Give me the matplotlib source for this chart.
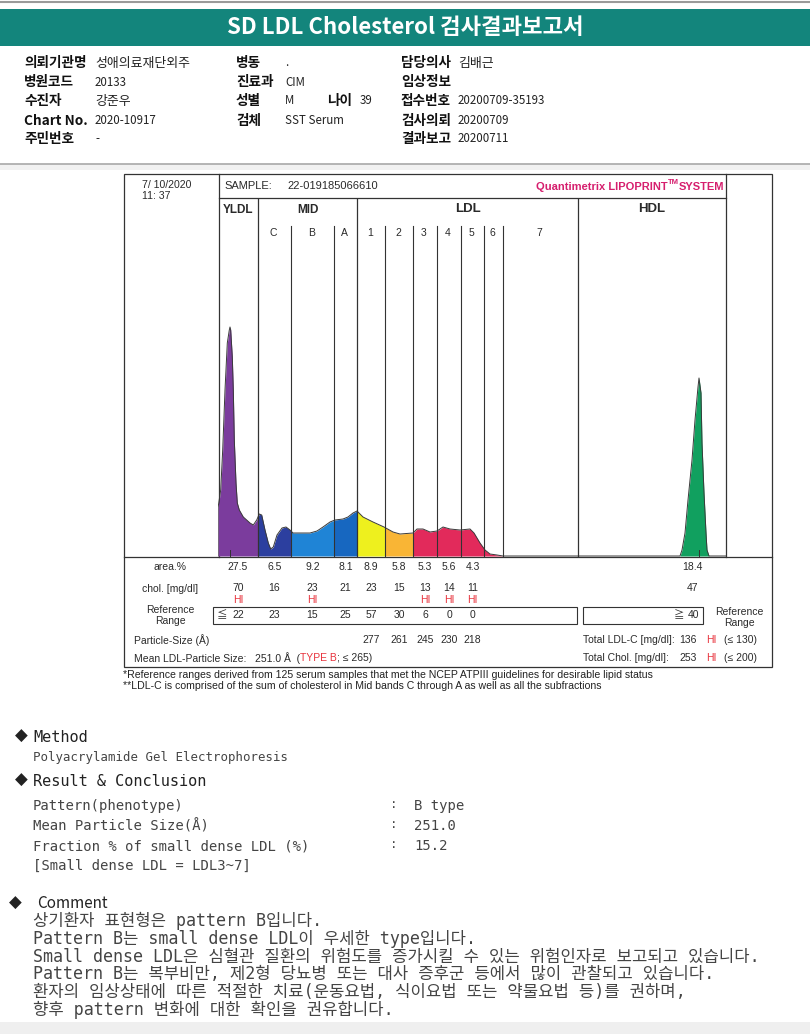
import matplotlib
matplotlib.use("Agg")
import matplotlib.pyplot as plt
from matplotlib.patches import Rectangle
from matplotlib.transforms import blended_transform_factory

plt.rcParams['font.family'] = ['Noto Sans CJK KR', 'DejaVu Sans']

# ---- report header info ----
col1_labels = ['의뢰기관명', '병원코드', '수진자', 'Chart No.', '주민번호']
col1_values = ['성애의료재단외주', '20133', '강준우', '2020-10917', '-']
col2_labels = ['병동', '진료과', '성별', '검체', '']
col2_values = ['.', 'CIM', 'M', 'SST Serum', '']
col3_labels = ['담당의사', '임상정보', '접수번호', '검사의뢰', '결과보고']
col3_values = ['김배근', '', '20200709-35193', '20200709', '20200711']
age_label, age_value = '나이', '39'

# ---- densitometry trace (mobility offset, relative intensity) ----
trace_x = [0, 0, 2.7, 4.7, 7, 9.3, 11.3, 12, 12.7, 14.3, 15.3, 16.3, 18, 19.3, 21.3,
           25.3, 32, 35.3, 38.7, 41.3, 43.7, 47, 50.3, 52.7, 55.3, 59, 64, 68, 72,
           75, 82, 92, 99, 105, 112, 117, 125, 130, 135, 139, 145, 155, 166, 175,
           182, 195, 199, 205, 212, 219, 225, 232, 242, 252, 256, 262, 267, 272,
           279, 285, 462, 464, 467, 470, 474, 477, 480, 481, 483, 484, 486, 488,
           489, 491, 508]
trace_y = [0, 48, 66, 106, 166, 213, 226, 229, 226, 199, 166, 116, 73, 53, 46,
           39, 33, 31, 36, 42, 41, 26, 13, 7, 9, 21, 28, 29, 26,
           23, 23, 23, 25, 29, 34, 36, 37, 39, 43, 45, 39, 34, 29, 24,
           22, 23, 27, 27, 24, 25, 29, 27, 26, 27, 23, 13, 6, 2,
           1, 0, 0, 6, 23, 56, 96, 136, 169, 178, 163, 113, 63, 23,
           6, 0, 0]

band_edges = [0, 40, 73, 116, 139, 167, 195, 219, 243, 266, 285, 360, 508]
sub_labels = ['C', 'B', 'A', '1', '2', '3', '4', '5', '6', '7']
fill_spans = [(0, 40), (40, 73), (73, 116), (116, 139), (139, 167), (167, 195),
              (195, 285), (360, 508)]
fill_colors = ['#7b3c9d', '#2c3f9f', '#1f84d6', '#1767c0', '#eef01e', '#f9b535',
               '#e22a5b', '#11a05f']

# ---- table values ----
area_pct = ['27.5', '6.5', '9.2', '8.1', '8.9', '5.8', '5.3', '5.6', '4.3']
chol = ['70', '16', '23', '21', '23', '15', '13', '14', '11']
chol_hi = [True, False, True, False, False, False, True, True, True]
ref_range = ['22', '23', '15', '25', '57', '30', '6', '0', '0']
particle_size = ['277', '261', '245', '230', '218']
hdl_area, hdl_chol, hdl_ref = '18.4', '47', '40'

# ---- results ----
result_labels = ['Pattern(phenotype)', 'Mean Particle Size(Å)',
                 'Fraction % of small dense LDL (%)']
result_values = ['B type', '251.0', '15.2']
comments = [
    '상기환자 표현형은 pattern B입니다.',
    'Pattern B는 small dense LDL이 우세한 type입니다.',
    'Small dense LDL은 심혈관 질환의 위험도를 증가시킬 수 있는 위험인자로 보고되고 있습니다.',
    'Pattern B는 복부비만, 제2형 당뇨병 또는 대사 증후군 등에서 많이 관찰되고 있습니다.',
    '환자의 임상상태에 따른 적절한 치료(운동요법, 식이요법 또는 약물요법 등)를 권하며,',
    '향후 pattern 변화에 대한 확인을 권유합니다.',
]

teal = '#13857c'
ink = '#2a2a2a'
red = '#e8323c'
magenta = '#d61f6e'
chart_font = ['Liberation Sans', 'Noto Sans CJK KR', 'DejaVu Sans']
mono = ['DejaVu Sans Mono', 'Noto Sans CJK KR']


def has_hangul(s):
    return any('\uac00' <= ch <= '\ud7a3' for ch in s)


fig = plt.figure(figsize=(8.1, 10.34), dpi=100)
page = fig.add_axes([0, 0, 1, 1])
page.set_xlim(0, 810)
page.set_ylim(1034, 0)
page.axis('off')
rend = fig.canvas.get_renderer()

# title band
page.plot([0, 810], [1.5, 1.5], color='#9a9a9a', lw=1.5)
page.add_patch(Rectangle((0, 9), 810, 37, color=teal, lw=0))
page.text(405, 28, 'SD LDL Cholesterol 검사결과보고서', color='white', fontsize=16,
          fontweight='bold', ha='center', va='center')

rows_y = [63, 82, 101, 121, 139]
lab_kw = dict(fontsize=9.8, fontweight='bold', va='center', color='#111')


def value(x, y, s):
    page.text(x, y, s, fontsize=9.3 if has_hangul(s) else 8.3, va='center', color='#222')


for i, y in enumerate(rows_y):
    page.text(24, y, col1_labels[i], **lab_kw)
    value(95, y, col1_values[i])
    page.text(236, y, col2_labels[i], **lab_kw)
    value(285, y, col2_values[i])
    page.text(401, y, col3_labels[i], **lab_kw)
    value(458, y, col3_values[i])
page.text(327, rows_y[2], age_label, **lab_kw)
value(360, rows_y[2], age_value)

page.add_patch(Rectangle((0, 164), 810, 6, color='#f1f1f1', lw=0))
page.plot([0, 810], [163.5, 163.5], color='#a8a8a8', lw=1.2)

# chart frame
lc = '#333333'
page.add_patch(Rectangle((124, 174), 648, 493, fill=False, ec=lc, lw=0.9))
page.plot([219, 219], [174, 557], color=lc, lw=0.9)
page.plot([726, 726], [174, 557], color=lc, lw=0.9)
page.plot([219, 726], [197.5, 197.5], color=lc, lw=0.9)
page.plot([124, 772], [557, 557], color=lc, lw=0.9)

page.text(142, 185, '7/ 10/2020', fontsize=7.6, family=chart_font, va='center', color=ink)
page.text(142, 196, '11: 37', fontsize=7.6, family=chart_font, va='center', color=ink)
page.text(224, 186, 'SAMPLE:', fontsize=8, family=chart_font, va='center', color=ink)
page.text(287, 186, '22-019185066610', fontsize=8, family=chart_font, va='center', color=ink)

t = page.text(724, 187, 'SYSTEM', fontsize=8, family=chart_font, fontweight='bold',
              color=magenta, ha='right', va='center')
x0 = t.get_window_extent(rend).x0
t = page.text(x0, 182, 'TM', fontsize=5.5, family=chart_font, fontweight='bold',
              color=magenta, ha='right', va='center')
x0 = t.get_window_extent(rend).x0
page.text(x0, 187, 'Quantimetrix LIPOPRINT', fontsize=8, family=chart_font,
          fontweight='bold', color=magenta, ha='right', va='center')

# trace axes
L, R, T, B = 218, 726, 198, 557
ax = fig.add_axes([L / 810, 1 - B / 1034, (R - L) / 810, (B - T) / 1034])
ax.set_xlim(0, 508)
ax.set_ylim(-1, 358)
ax.axis('off')

for (a, b), col in zip(fill_spans, fill_colors):
    poly = ax.fill_between(trace_x, trace_y, 0, color=col, lw=0)
    poly.set_clip_path(Rectangle((a, -1), b - a, 360, transform=ax.transData))
ax.plot(trace_x, trace_y, color='#3a3a3a', lw=0.7)
ax.plot([12, 12], [-1, 6], color='#333', lw=0.7)
ax.plot([481, 481], [-1, 6], color='#333', lw=0.7)

main_div = [band_edges[1], band_edges[4], band_edges[11]]
sub_div = band_edges[2:4] + band_edges[5:11]
for xv in main_div:
    ax.plot([xv, xv], [-1, 358], color=lc, lw=0.9)
for xv in sub_div:
    ax.plot([xv, xv], [-1, 330], color=lc, lw=0.8)

bt = blended_transform_factory(ax.transData, page.transData)
centers = [(band_edges[i] + band_edges[i + 1]) / 2 for i in range(len(band_edges) - 1)]
page.text(centers[0], 210, 'YLDL', transform=bt, fontsize=8.5, fontweight='bold',
          family=chart_font, ha='center', va='center', color=ink)
page.text((band_edges[1] + band_edges[4]) / 2, 210, 'MID', transform=bt, fontsize=8.5,
          fontweight='bold', family=chart_font, ha='center', va='center', color=ink)
page.text((band_edges[4] + band_edges[11]) / 2, 209, 'LDL', transform=bt, fontsize=9.5,
          fontweight='bold', family=chart_font, ha='center', va='center', color=ink)
page.text(centers[11], 209, 'HDL', transform=bt, fontsize=9.5, fontweight='bold',
          family=chart_font, ha='center', va='center', color=ink)
for lab, cx in zip(sub_labels, centers[1:11]):
    page.text(cx - 1, 233, lab, transform=bt, fontsize=7.5, family=chart_font,
              ha='center', va='center', color=ink)

# table under the trace
tkw = dict(fontsize=7.5, family=chart_font, va='center', color=ink)
page.text(170, 567, 'area.%', ha='center', **tkw)
page.text(170, 589, 'chol. [mg/dl]', ha='center', **tkw)
page.text(170, 610, 'Reference', ha='center', **tkw)
page.text(170, 621, 'Range', ha='center', **tkw)
page.text(134, 640, 'Particle-Size (Å)', ha='left', **tkw)
hdl_x = 474
for i, cx in enumerate(centers[:9]):
    page.text(cx, 567, area_pct[i], transform=bt, ha='center', **tkw)
    page.text(cx, 588, chol[i], transform=bt, ha='center', **tkw)
    if chol_hi[i]:
        page.text(cx, 600, 'HI', transform=bt, ha='center', fontsize=7.5,
                  family=chart_font, va='center', color=red)
    page.text(cx, 615.5, ref_range[i], transform=bt, ha='center', **tkw)
for i, cx in enumerate(centers[4:9]):
    page.text(cx, 640, particle_size[i], transform=bt, ha='center', **tkw)
page.text(hdl_x, 567, hdl_area, transform=bt, ha='center', **tkw)
page.text(hdl_x, 588, hdl_chol, transform=bt, ha='center', **tkw)
page.text(hdl_x + 1, 615.5, hdl_ref, transform=bt, ha='center', **tkw)
page.text(217, 615.5, '≦', ha='left', **tkw)
page.text(684, 615.5, '≧', ha='right', **tkw)
page.add_patch(Rectangle((213, 607), 364, 17, fill=False, ec=lc, lw=0.8))
page.add_patch(Rectangle((583, 607), 120, 17, fill=False, ec=lc, lw=0.8))
page.text(739, 612, 'Reference', ha='center', **tkw)
page.text(739, 623, 'Range', ha='center', **tkw)

page.text(583, 640, 'Total LDL-C [mg/dl]:', ha='left', **tkw)
page.text(688, 640, '136', ha='center', **tkw)
page.text(711, 640, 'HI', ha='center', fontsize=7.5, family=chart_font, va='center', color=red)
page.text(740, 640, '(≤ 130)', ha='center', **tkw)
page.text(583, 658, 'Total Chol. [mg/dl]:', ha='left', **tkw)
page.text(688, 658, '253', ha='center', **tkw)
page.text(711, 658, 'HI', ha='center', fontsize=7.5, family=chart_font, va='center', color=red)
page.text(740, 658, '(≤ 200)', ha='center', **tkw)

x = 134
for s, c in [('Mean LDL-Particle Size:   251.0 Å  (', ink), ('TYPE B', red), ('; ≤ 265)', ink)]:
    t = page.text(x, 658, s, fontsize=7.5, family=chart_font, va='center', color=c)
    x = t.get_window_extent(rend).x1

page.text(123, 675, '*Reference ranges derived from 125 serum samples that met the NCEP ATPIII '
          'guidelines for desirable lipid status', fontsize=7.6, family=chart_font,
          va='center', color='#222')
page.text(123, 686, '**LDL-C is comprised of the sum of cholesterol in Mid bands C through A '
          'as well as all the subfractions', fontsize=7.6, family=chart_font,
          va='center', color='#222')

# method / result / comment
page.text(15, 736, '◆', fontsize=12, family=['DejaVu Sans'], va='center', color='#222')
page.text(33, 737, 'Method', fontsize=11, family=mono, va='center', color='#222')
page.text(33, 757, 'Polyacrylamide Gel Electrophoresis', fontsize=8.9, family=mono,
          va='center', color='#444')
page.text(15, 780, '◆', fontsize=12, family=['DejaVu Sans'], va='center', color='#222')
page.text(33, 781, 'Result & Conclusion', fontsize=11, family=mono, va='center', color='#222')
for i, (lab, val) in enumerate(zip(result_labels, result_values)):
    y = 806 + 20 * i
    page.text(33, y, lab, fontsize=10, family=mono, va='center', color='#444')
    page.text(390, y - 2, ':', fontsize=9, family=mono, va='center', color='#444')
    page.text(414, y, val, fontsize=10, family=mono, va='center', color='#444')
page.text(33, 866, '[Small dense LDL = LDL3~7]', fontsize=10, family=mono,
          va='center', color='#444')

page.text(9, 903, '◆', fontsize=12, family=['DejaVu Sans'], va='center', color='#222')
page.text(37, 903, 'Comment', fontsize=11, va='center', color='#222')
for i, line in enumerate(comments):
    page.text(33, 921 + 17.8 * i, line, fontsize=12, family=mono, va='center',
              color='#444')

page.add_patch(Rectangle((0, 1022), 810, 12, color='#efefef', lw=0))

fig.savefig('out.png', dpi=100)
